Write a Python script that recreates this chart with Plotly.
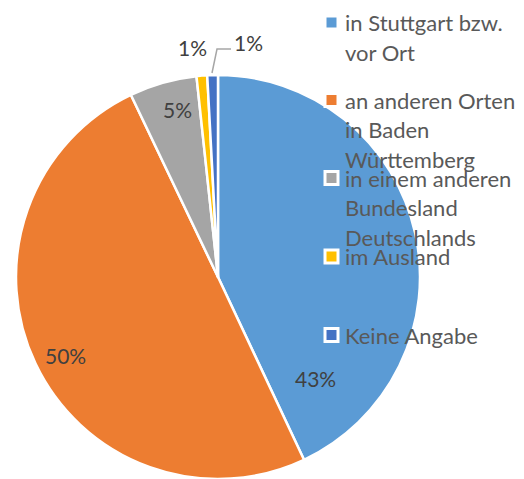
import plotly.graph_objects as go

# ---- data ----
categories = [
    "in Stuttgart bzw. vor Ort",
    "an anderen Orten in Baden Württemberg",
    "in einem anderen Bundesland Deutschlands",
    "im Ausland",
    "Keine Angabe",
]
legend_lines = [
    ["in Stuttgart bzw.", "vor Ort"],
    ["an anderen Orten", "in Baden", "Württemberg"],
    ["in einem anderen", "Bundesland", "Deutschlands"],
    ["im Ausland"],
    ["Keine Angabe"],
]
values = [43.0, 49.9, 5.4, 0.85, 0.85]
colors = ["#5B9BD5", "#ED7D31", "#A5A5A5", "#FFC000", "#4472C4"]

W, H = 524, 479


def px(x):
    return x / W


def py(y):
    return 1 - y / H


fig = go.Figure()
fig.add_trace(go.Pie(
    labels=categories,
    values=values,
    sort=False,
    direction="clockwise",
    rotation=0,
    textinfo="none",
    marker=dict(colors=colors, line=dict(color="white", width=2.5)),
    domain=dict(x=[px(15), px(421)], y=[0, py(75)]),
    showlegend=False,
))

total = sum(values)
pct_labels = [f"{round(v / total * 100)}%" for v in values]

# label positions (pixels) for each slice
label_pos = [(315, 378), (65, 355), (177, 110), (192, 47), (248, 43)]
annotations = []
for txt, (x, y) in zip(pct_labels, label_pos):
    annotations.append(dict(
        x=px(x), y=py(y), xref="paper", yref="paper", text=txt,
        showarrow=False, xanchor="center", yanchor="middle",
        font=dict(family="Lato", size=21, color="#404040"),
    ))

# leader line for the last small slice
shapes = [dict(
    type="path", xref="paper", yref="paper",
    path=f"M {px(212)} {py(73)} L {px(217)} {py(49)} L {px(231)} {py(49)}",
    line=dict(color="#A6A6A6", width=1.5),
)]

# custom legend
legend_square_y = [22.5, 100, 178, 256.5, 335]
line_gap = 29.5
for lines, col, sy in zip(legend_lines, colors, legend_square_y):
    shapes.append(dict(type="rect", xref="paper", yref="paper",
                       x0=px(323.5), x1=px(339.5), y0=py(sy - 8), y1=py(sy + 8),
                       fillcolor="white", line=dict(width=0), layer="above"))
    shapes.append(dict(type="rect", xref="paper", yref="paper",
                       x0=px(326.5), x1=px(336.5), y0=py(sy - 5), y1=py(sy + 5),
                       fillcolor=col, line=dict(width=0), layer="above"))
    for i, ln in enumerate(lines):
        annotations.append(dict(
            x=px(343), y=py(sy + i * line_gap), xref="paper", yref="paper",
            text=ln, showarrow=False, xanchor="left", yanchor="middle",
            font=dict(family="Lato", size=22, color="#595959"),
        ))

fig.update_layout(
    width=W, height=H,
    margin=dict(l=0, r=0, t=0, b=0),
    paper_bgcolor="white", plot_bgcolor="white",
    annotations=annotations, shapes=shapes,
)

fig.write_html("out.html", config={"displayModeBar": False},
               post_script="document.body.style.margin='0';")
